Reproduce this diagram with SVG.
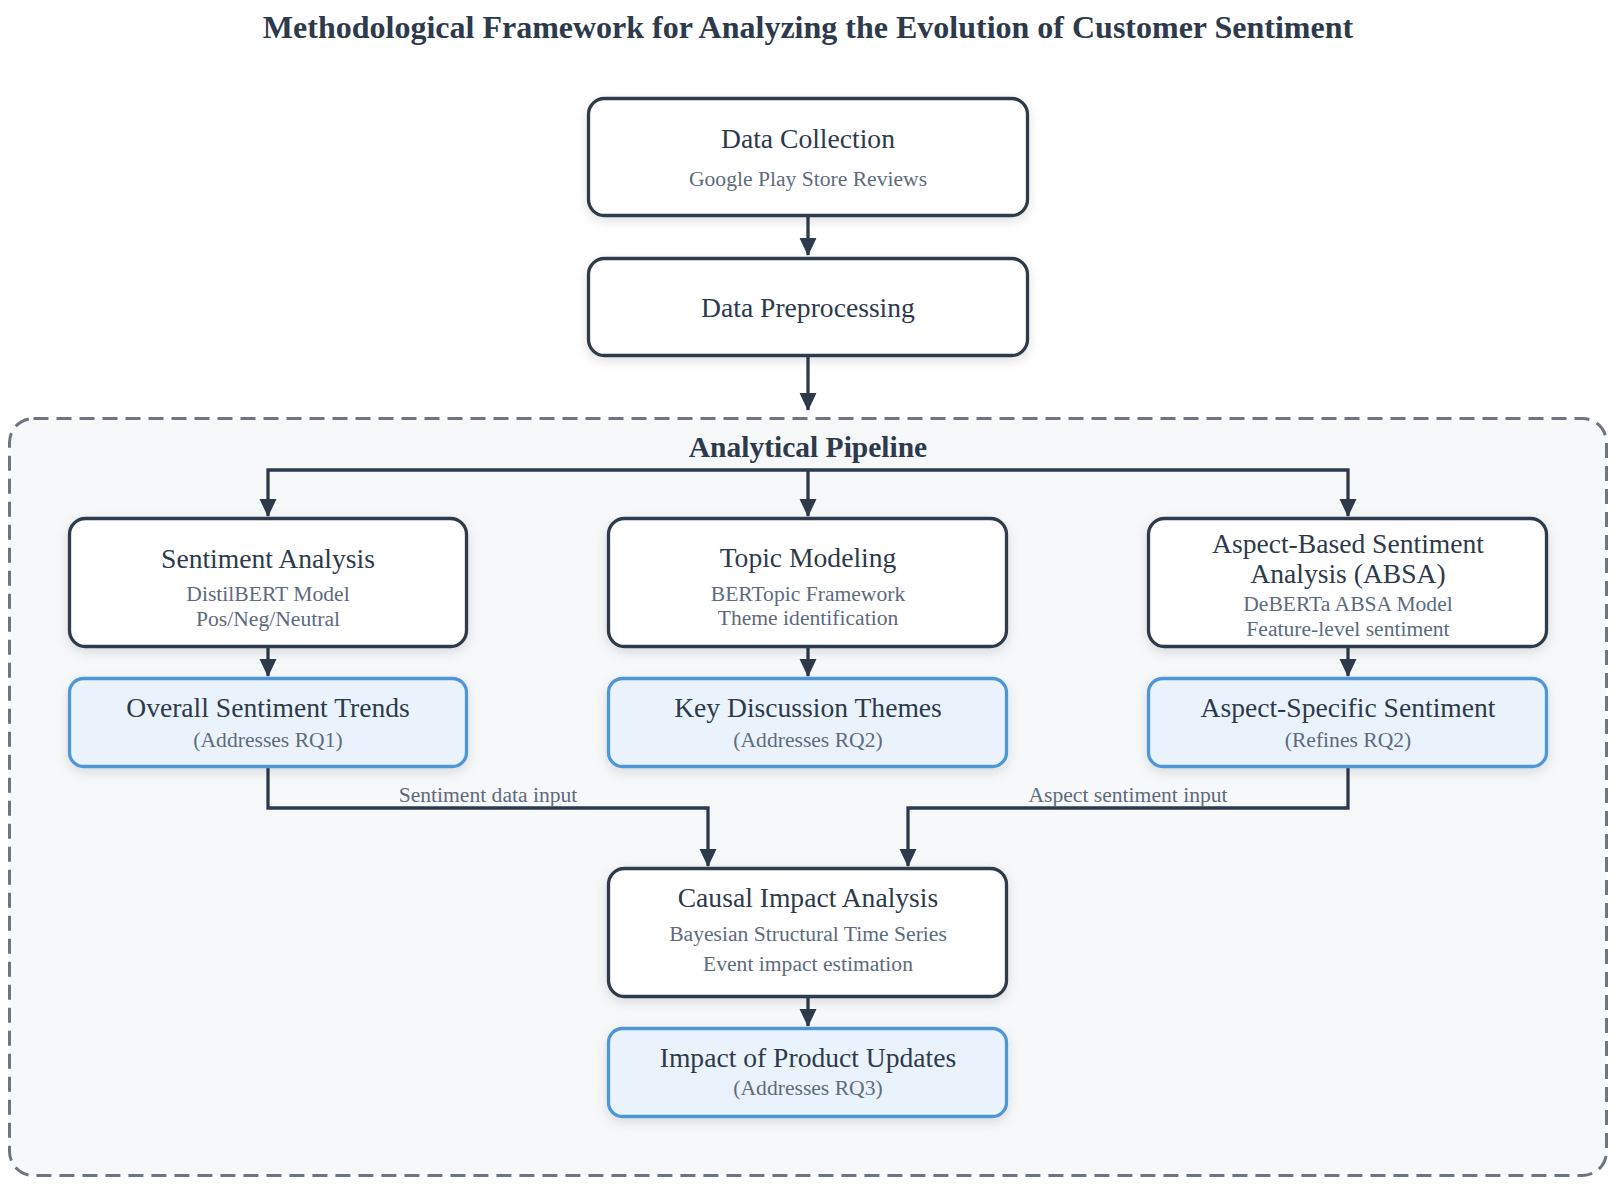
<svg xmlns="http://www.w3.org/2000/svg" width="1618" height="1190" viewBox="0 0 1618 1190">
<defs>
<filter id="sh" x="-10%" y="-20%" width="120%" height="150%">
<feDropShadow dx="0" dy="4" stdDeviation="6" flood-color="#000" flood-opacity="0.12"/>
</filter>
<marker id="arr" markerUnits="userSpaceOnUse" markerWidth="18" markerHeight="18" refX="17" refY="9" orient="auto">
<path d="M0,0.5 L18,9 L0,17.5 z" fill="#2d3a4c"/>
</marker>
<style>
.bg{fill:#ffffff}
.proc{fill:#ffffff;stroke:#2d3a4c;stroke-width:3.3}
.res{fill:#eaf3fc;stroke:#4f96d8;stroke-width:3.3}
.t{font-family:"Liberation Serif","Times New Roman",serif;fill:#2d3a4c;text-anchor:middle}
.h{font-size:27.6px}
.s{font-size:21.6px;fill:#5d6b7e}
.title{font-size:32px;font-weight:bold}
.lbl{font-size:21.6px;fill:#5d6b7e}
.c{fill:none;stroke:#2d3a4c;stroke-width:3.3}
</style>
</defs>
<rect class="bg" x="0" y="0" width="1618" height="1190"/>
<text class="t title" x="808" y="38">Methodological Framework for Analyzing the Evolution of Customer Sentiment</text>

<g id="pipeline">
<rect x="9.5" y="418.5" width="1597" height="757" rx="24" fill="#f7f8fa" stroke="#6e7580" stroke-width="3" stroke-dasharray="15 8"/>
<text class="t" x="808" y="457" font-size="29.5" font-weight="bold">Analytical Pipeline</text>
</g>

<g id="connectors">
<path class="c" d="M808 217 V255" marker-end="url(#arr)"/>
<path class="c" d="M808 357 V410" marker-end="url(#arr)"/>
<path class="c" d="M808 470 H268 V516" marker-end="url(#arr)"/>
<path class="c" d="M808 470 V516" marker-end="url(#arr)"/>
<path class="c" d="M808 470 H1348 V516" marker-end="url(#arr)"/>
<path class="c" d="M268 648 V676" marker-end="url(#arr)"/>
<path class="c" d="M808 648 V676" marker-end="url(#arr)"/>
<path class="c" d="M1348 648 V676" marker-end="url(#arr)"/>
<path class="c" d="M268 768 V808 H708 V866" marker-end="url(#arr)"/>
<path class="c" d="M1348 768 V808 H908 V866" marker-end="url(#arr)"/>
<path class="c" d="M808 998 V1026" marker-end="url(#arr)"/>
<text class="t lbl" x="488" y="802">Sentiment data input</text>
<text class="t lbl" x="1128" y="802">Aspect sentiment input</text>
</g>

<g id="data-collection">
<rect class="proc" filter="url(#sh)" x="588.5" y="98.5" width="439" height="117" rx="16"/>
<text class="t h" x="808" y="148">Data Collection</text>
<text class="t s" x="808" y="186">Google Play Store Reviews</text>
</g>

<g id="data-preprocessing">
<rect class="proc" filter="url(#sh)" x="588.5" y="258.5" width="439" height="97" rx="16"/>
<text class="t h" x="808" y="317">Data Preprocessing</text>
</g>

<g id="sentiment-analysis">
<rect class="proc" filter="url(#sh)" x="69.5" y="518.5" width="397" height="128" rx="16"/>
<text class="t h" x="268" y="567.5">Sentiment Analysis</text>
<text class="t s" x="268" y="600.5">DistilBERT Model</text>
<text class="t s" x="268" y="625.5">Pos/Neg/Neutral</text>
</g>

<g id="topic-modeling">
<rect class="proc" filter="url(#sh)" x="608.5" y="518.5" width="398" height="128" rx="16"/>
<text class="t h" x="808" y="567">Topic Modeling</text>
<text class="t s" x="808" y="600.5">BERTopic Framework</text>
<text class="t s" x="808" y="625">Theme identification</text>
</g>

<g id="absa">
<rect class="proc" filter="url(#sh)" x="1148.5" y="518.5" width="398" height="128" rx="16"/>
<text class="t h" x="1348" y="552.5">Aspect-Based Sentiment</text>
<text class="t h" x="1348" y="582.5">Analysis (ABSA)</text>
<text class="t s" x="1348" y="610.5">DeBERTa ABSA Model</text>
<text class="t s" x="1348" y="635.5">Feature-level sentiment</text>
</g>

<g id="overall-sentiment-trends">
<rect class="res" filter="url(#sh)" x="69.5" y="678.5" width="397" height="88" rx="14"/>
<text class="t h" x="268" y="716.5">Overall Sentiment Trends</text>
<text class="t s" x="268" y="746.5">(Addresses RQ1)</text>
</g>

<g id="key-discussion-themes">
<rect class="res" filter="url(#sh)" x="608.5" y="678.5" width="398" height="88" rx="14"/>
<text class="t h" x="808" y="717">Key Discussion Themes</text>
<text class="t s" x="808" y="746.5">(Addresses RQ2)</text>
</g>

<g id="aspect-specific-sentiment">
<rect class="res" filter="url(#sh)" x="1148.5" y="678.5" width="398" height="88" rx="14"/>
<text class="t h" x="1348" y="716.5">Aspect-Specific Sentiment</text>
<text class="t s" x="1348" y="746.5">(Refines RQ2)</text>
</g>

<g id="causal-impact-analysis">
<rect class="proc" filter="url(#sh)" x="608.5" y="868.5" width="398" height="128" rx="16"/>
<text class="t h" x="808" y="906.5">Causal Impact Analysis</text>
<text class="t s" x="808" y="941">Bayesian Structural Time Series</text>
<text class="t s" x="808" y="970.5">Event impact estimation</text>
</g>

<g id="impact-of-product-updates">
<rect class="res" filter="url(#sh)" x="608.5" y="1028.5" width="398" height="88" rx="14"/>
<text class="t h" x="808" y="1066.5">Impact of Product Updates</text>
<text class="t s" x="808" y="1095">(Addresses RQ3)</text>
</g>
</svg>
